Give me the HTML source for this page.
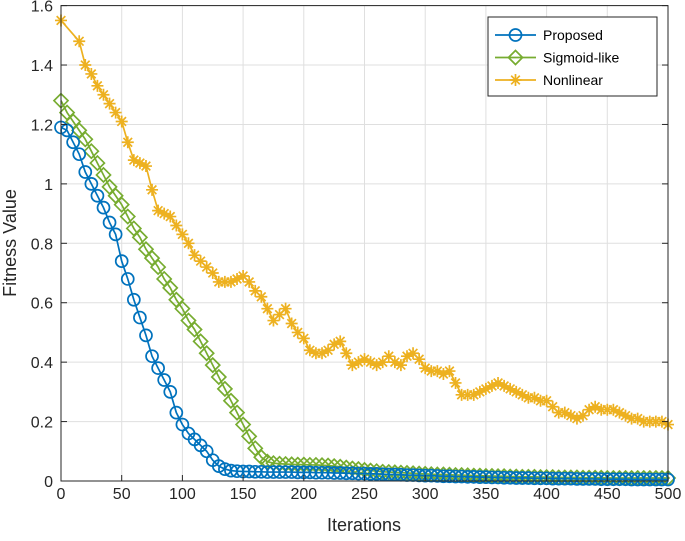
<!DOCTYPE html>
<html><head><meta charset="utf-8"><style>
html,body{margin:0;padding:0;background:#fff;}
svg{display:block;font-family:"Liberation Sans",Arial,sans-serif;}
</style></head><body>
<svg id="chart" width="685" height="541" viewBox="0 0 685 541" xmlns="http://www.w3.org/2000/svg">
<g id="grid"></g>
<g id="series"></g>
<rect x="61" y="5.6" width="607" height="475.4" fill="none" stroke="#262626" stroke-width="1"/>
<g id="ticks"></g>
<text x="364" y="531" font-size="18" text-anchor="middle" fill="#262626">Iterations</text>
<text transform="translate(16,243) rotate(-90)" font-size="18" text-anchor="middle" fill="#262626">Fitness Value</text>
<g id="legend"></g>
</svg>
<script>
const iterations=[];for(let i=0;i<=500;i+=5)iterations.push(i);
const xTicks=[0,50,100,150,200,250,300,350,400,450,500];
const yTicks=[0,0.2,0.4,0.6,0.8,1,1.2,1.4,1.6];
const yTickLabels=["0","0.2","0.4","0.6","0.8","1","1.2","1.4","1.6"];
const proposed=[1.19,1.18,1.14,1.10,1.04,1.00,0.96,0.92,0.87,0.83,0.74,0.68,0.61,0.55,0.49,0.42,0.38,0.34,0.30,0.23,0.19,0.16,0.14,0.12,0.10,0.07,0.05,0.04,0.035,0.033,0.032,0.032,0.031,0.031,0.030,0.030,0.030,0.030,0.030,0.029,0.029,0.029,0.028,0.028,0.028,0.027,0.027,0.026,0.026,0.025,0.025,0.024,0.024,0.023,0.022,0.022,0.021,0.020,0.020,0.019,0.018,0.018,0.017,0.016,0.016,0.015,0.015,0.014,0.014,0.013,0.013,0.012,0.012,0.011,0.011,0.010,0.010,0.010,0.009,0.009,0.009,0.008,0.008,0.008,0.008,0.007,0.007,0.007,0.007,0.006,0.006,0.006,0.006,0.006,0.005,0.005,0.005,0.005,0.005,0.005,0.005];
const sigmoid=[1.28,1.24,1.21,1.18,1.15,1.11,1.07,1.03,0.99,0.96,0.93,0.89,0.85,0.82,0.78,0.75,0.72,0.68,0.65,0.61,0.58,0.54,0.51,0.47,0.43,0.39,0.35,0.31,0.27,0.23,0.19,0.15,0.11,0.08,0.065,0.06,0.058,0.057,0.056,0.055,0.055,0.054,0.054,0.053,0.052,0.050,0.048,0.045,0.042,0.040,0.037,0.035,0.033,0.031,0.030,0.029,0.028,0.027,0.026,0.025,0.024,0.023,0.022,0.022,0.021,0.020,0.020,0.019,0.018,0.018,0.017,0.017,0.016,0.016,0.015,0.015,0.014,0.014,0.014,0.013,0.013,0.013,0.012,0.012,0.012,0.012,0.011,0.011,0.011,0.011,0.010,0.010,0.010,0.010,0.010,0.010,0.010,0.010,0.010,0.010,0.010];
const nonlinear=[1.55,null,null,1.48,1.40,1.37,1.33,1.30,1.27,1.24,1.21,1.14,1.08,1.07,1.06,0.98,0.91,0.90,0.89,0.86,0.83,0.80,0.76,0.74,0.72,0.70,0.67,0.67,0.67,0.68,0.69,0.67,0.64,0.62,0.58,0.54,0.56,0.58,0.53,0.50,0.48,0.44,0.43,0.43,0.44,0.46,0.47,0.43,0.39,0.40,0.41,0.40,0.39,0.40,0.42,0.40,0.39,0.42,0.43,0.41,0.38,0.37,0.37,0.36,0.37,0.33,0.29,0.29,0.29,0.30,0.31,0.32,0.33,0.32,0.31,0.30,0.29,0.28,0.28,0.27,0.27,0.25,0.23,0.23,0.22,0.21,0.22,0.24,0.25,0.24,0.24,0.24,0.23,0.22,0.21,0.21,0.20,0.20,0.20,0.20,0.19];
const seriesNames=["Proposed","Sigmoid-like","Nonlinear"];
const NS="http://www.w3.org/2000/svg";
const X0=61,X1=668,Y0=481,Y1=5.6;
function xs(v){return X0+(v/500)*(X1-X0);}
function ys(v){return Y0-(v/1.6)*(Y0-Y1);}
function mk(tag,attrs,parent){const e=document.createElementNS(NS,tag);for(const k in attrs)e.setAttribute(k,attrs[k]);parent.appendChild(e);return e;}
const grid=document.getElementById('grid'),ticks=document.getElementById('ticks');
xTicks.forEach(t=>{
  const l=mk('line',{x1:xs(t),x2:xs(t),y1:Y1,y2:Y0,stroke:'#dfdfdf','stroke-width':1},grid);
  
  
  const tk=mk('line',{x1:xs(t),x2:xs(t),y1:Y0,y2:Y0-6,stroke:'#262626'},ticks);
  
  
  const tx=mk('text',{x:xs(t),y:Y0+18,'font-size':16,'text-anchor':'middle',fill:'#262626'},ticks);
  tx.textContent=t;
  
  
});
yTicks.forEach((t,i)=>{
  const l=mk('line',{x1:X0,x2:X1,y1:ys(t),y2:ys(t),stroke:'#dfdfdf','stroke-width':1},grid);
  
  
  const tk=mk('line',{x1:X0,x2:X0+6,y1:ys(t),y2:ys(t),stroke:'#262626'},ticks);
  
  
  const tk2=mk('line',{x1:X1,x2:X1-6,y1:ys(t),y2:ys(t),stroke:'#262626'},ticks);
  
  
  const tx=mk('text',{x:X0-8,y:ys(t)+6,'font-size':16,'text-anchor':'end',fill:'#262626'},ticks);
  tx.textContent=yTickLabels[i];
  
  
});
function marker(type,x,y,color,parent){
  let e;
  if(type==='circle'){e=mk('circle',{cx:x,cy:y,r:6,fill:'none',stroke:color,'stroke-width':1.7},parent);}
  else if(type==='diamond'){const s=7;e=mk('polygon',{points:`${x},${y-s} ${x+s},${y} ${x},${y+s} ${x-s},${y}`,fill:'none',stroke:color,'stroke-width':1.7},parent);}
  else{const s=6,d=s*0.72;e=mk('path',{d:`M${x-s},${y}H${x+s}M${x},${y-s}V${y+s}M${x-d},${y-d}L${x+d},${y+d}M${x-d},${y+d}L${x+d},${y-d}`,stroke:color,'stroke-width':1.7,fill:'none'},parent);}
  return e;
}
const sg=document.getElementById('series');
const defs=[[proposed,'#0072BD','circle','proposed'],[sigmoid,'#77AC30','diamond','sigmoid-like'],[nonlinear,'#EDB120','star','nonlinear']];
defs.slice().reverse().forEach(([data,color,type,name])=>{
  const g=mk('g',{},sg);
  
  
  const pts=[];iterations.forEach((it,i)=>{if(data[i]!==null)pts.push([xs(it),ys(data[i])]);});
  const p=mk('polyline',{points:pts.map(p=>p.join(',')).join(' '),fill:'none',stroke:color,'stroke-width':1.7},g);
  
  
  pts.forEach(([x,y])=>{const m=marker(type,x,y,color,g);
    
    });
});
const lg=document.getElementById('legend');
const box=mk('rect',{x:488,y:17,width:169,height:79,fill:'#fff',stroke:'#262626','stroke-width':1},lg);


defs.forEach(([d,color,type,name],i)=>{
  const y=35+i*22.5;
  const g=mk('g',{},lg);
  
  
  mk('line',{x1:495,x2:536,y1:y,y2:y,stroke:color,'stroke-width':1.7},g);
  marker(type,515.5,y,color,g);
  const t=mk('text',{x:543,y:y+5,'font-size':14,fill:'#000'},g);
  t.textContent=seriesNames[i];
});
</script>
</body></html>
